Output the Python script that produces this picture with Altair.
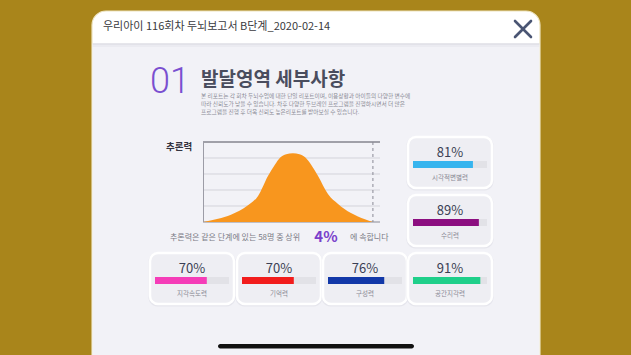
import altair as alt
import pandas as pd

# ---------------- data ----------------
header_title = "우리아이 116회차 두뇌보고서 B단계_2020-02-14"
section_no = "01"
section_title = "발달영역 세부사항"
desc_lines = [
    "본 리포트는 각 회차 두뇌수업에 대한 단일 리포트이며, 이용상황과 아이들의 다양한 변수에",
    "따라 신뢰도가 낮을 수 있습니다. 차후 다양한 두브레인 프로그램을 진행하시면서 더 많은",
    "프로그램을 진행 후 더욱 신뢰도 높은리포트를 받아보실 수 있습니다.",
]
main_skill = "추론력"
curve_pct = [0, 8.5, 15.8, 25.4, 31.1, 36.7, 40.7, 43.5, 47, 50.8, 54.5, 58, 61, 65, 70.6, 76.3, 83.6, 91.5, 96]
curve_density = [0, 0.2, 0.45, 1.04, 1.63, 2.88, 3.6, 4.02, 4.24, 4.29, 4.24, 4.02, 3.6, 2.88, 1.75, 1.13, 0.56, 0.17, 0]
grid_levels = [0, 1, 2, 3, 4, 5]
my_percentile = 96
top_percent = 4
group_size = 58
skill_names = ["시각적변별력", "수리력", "지각속도력", "기억력", "구성력", "공간지각력"]
skill_scores = [81, 89, 70, 70, 76, 91]
skill_colors = ["#36B4EE", "#8C0E80", "#F53DB8", "#F21C1C", "#1238A8", "#1FCF8A"]

# ---------------- layout / style ----------------
W, H = 631, 355
GOLD = "#A9851B"
BODY = "#F2F2F7"
FONT = "Noto Sans CJK KR"
CARD_POS = [(408, 137), (408, 195), (150, 253), (237, 253), (323, 253), (408, 253)]
CARD_W, CARD_H = 84, 51
PLOT_X = [203, 380]
PLOT_Y = [222, 142]

one = alt.Data(values=[{"a": 1}])


def box(x0, y0, x1, y1, **kw):
    return alt.Chart(one).mark_rect(**kw).encode(
        x=alt.value(x0), x2=alt.value(x1), y=alt.value(y0), y2=alt.value(y1)
    )


def label(txt, x, y, **kw):
    return alt.Chart(one).mark_text(font=FONT, **kw).encode(
        x=alt.value(x), y=alt.value(y), text=alt.value(txt)
    )


def line(x0, y0, x1, y1, **kw):
    return alt.Chart(one).mark_rule(**kw).encode(
        x=alt.value(x0), x2=alt.value(x1), y=alt.value(y0), y2=alt.value(y1)
    )


layers = []
# panel
layers.append(box(92, 11, 540, 400, fill="white", cornerRadius=14, stroke="#EDE3BE", strokeWidth=1.2))
layers.append(box(92.6, 44, 539.4, 400, fill=BODY))
layers.append(box(92.6, 43, 539.4, 45, fill="#DCDCE3", opacity=0.7))
layers.append(box(92.6, 45, 539.4, 47, fill="#E6E6EC", opacity=0.6))
layers.append(label(header_title, 103, 27, fontSize=11, align="left", baseline="middle", color="#3A3A40"))
layers.append(line(515, 21, 531, 37, color="#4A5573", strokeWidth=2.6, strokeCap="round"))
layers.append(line(531, 21, 515, 37, color="#4A5573", strokeWidth=2.6, strokeCap="round"))

# section heading
layers.append(alt.Chart(one).mark_text(font="Roboto", fontWeight=300, fontSize=36, align="left",
                                       baseline="alphabetic", color="#7A4FD0").encode(
    x=alt.value(150), y=alt.value(93), text=alt.value(section_no)))
layers.append(label(section_title, 201, 86, fontSize=19, fontWeight="bold", align="left",
                    baseline="alphabetic", color="#4A4D5E"))
for i, t in enumerate(desc_lines):
    layers.append(label(t, 201, 96 + i * 7.8, fontSize=5.7, align="left", baseline="middle", color="#8A8A95"))

# distribution chart
layers.append(label(main_skill, 166, 147, fontSize=9.5, fontWeight="bold", align="left",
                    baseline="middle", color="#333340"))
curve_df = pd.DataFrame({"pct": curve_pct, "density": curve_density})
xs = alt.Scale(domain=[0, 100], range=PLOT_X, nice=False, zero=False)
ys = alt.Scale(domain=[0, 5], range=PLOT_Y, nice=False)
grid_df = pd.DataFrame({"level": grid_levels})
layers.append(alt.Chart(grid_df).mark_rule(strokeWidth=1).encode(
    y=alt.Y("level:Q", scale=ys, axis=None),
    x=alt.value(PLOT_X[0]), x2=alt.value(PLOT_X[1]),
    color=alt.Color("c:N", scale=None)).transform_calculate(
    c="datum.level == 5 ? '#4E4E5A' : (datum.level == 0 ? '#8A8A96' : '#D3D3DA')"))
layers.append(line(203.5, 142, 203.5, 222, color="#9C9CA6", strokeWidth=1))
layers.append(alt.Chart(curve_df).mark_area(color="#F8961E", interpolate="monotone").encode(
    x=alt.X("pct:Q", scale=xs, axis=None),
    y=alt.Y("density:Q", scale=ys, axis=None)))
layers.append(alt.Chart(pd.DataFrame({"p": [my_percentile]})).mark_rule(
    strokeDash=[3, 3], color="#8A8A95", strokeWidth=1).encode(
    x=alt.X("p:Q", scale=xs, axis=None), y=alt.value(142), y2=alt.value(222)))

sent_df = pd.DataFrame({"n": [group_size], "top": [top_percent]})
layers.append(alt.Chart(sent_df).mark_text(font=FONT, fontSize=8, align="left", baseline="middle",
                                          color="#7A7A85").encode(
    x=alt.value(170), y=alt.value(237.5),
    text=alt.Text("s:N")).transform_calculate(s=f"'{main_skill}은 같은 단계에 있는 ' + datum.n + '명 중 상위'"))
layers.append(alt.Chart(sent_df).mark_text(font=FONT, fontSize=15, fontWeight="bold", align="center",
                                          baseline="middle", color="#7A3FCB").encode(
    x=alt.value(326), y=alt.value(237),
    text=alt.Text("s:N")).transform_calculate(s="datum.top + '%'"))
layers.append(label("에 속합니다", 350, 237.5, fontSize=8, align="left", baseline="middle", color="#7A7A85"))

# skill cards
for name, score, col, (x0, y0) in zip(skill_names, skill_scores, skill_colors, CARD_POS):
    x1, y1 = x0 + CARD_W, y0 + CARD_H
    layers.append(box(x0 - 1.5, y0 - 0.5, x1 + 1.5, y1 + 2.5, fill="#D8D8E0", opacity=0.45, cornerRadius=9))
    layers.append(box(x0, y0, x1, y1, fill="#EEEEF3", stroke="white", strokeWidth=2.5, cornerRadius=8))
    layers.append(box(x0 + 5, y0 + 24, x1 - 5, y0 + 31, fill="#E2E2E7"))
    d = pd.DataFrame({"skill": [name], "score": [score]})
    base = alt.Chart(d)
    layers.append(base.mark_rect(color=col).encode(
        x=alt.X("score:Q", scale=alt.Scale(domain=[0, 100], range=[x0 + 5, x1 - 5], nice=False), axis=None),
        x2=alt.datum(0),
        y=alt.value(y0 + 24), y2=alt.value(y0 + 31)))
    layers.append(base.mark_text(font=FONT, fontSize=13, align="center", baseline="middle",
                                 color="#3B3F55").encode(
        x=alt.value(x0 + CARD_W / 2), y=alt.value(y0 + 15.5),
        text=alt.Text("t:N")).transform_calculate(t="datum.score + '%'"))
    layers.append(base.mark_text(font=FONT, fontSize=6.5, align="center", baseline="middle",
                                 color="#8A8A95").encode(
        x=alt.value(x0 + CARD_W / 2), y=alt.value(y0 + 41),
        text=alt.Text("skill:N")))

# home indicator
layers.append(box(218, 344, 414, 348.5, fill="#111111", cornerRadius=2.5))

chart = alt.layer(*layers).resolve_scale(x="independent", y="independent").properties(
    width=W, height=H, background=GOLD, padding=0, autosize=alt.AutoSizeParams(type="none")
).configure_view(stroke=None)

chart.save("out.html", embed_options={"renderer": "svg", "actions": False})
